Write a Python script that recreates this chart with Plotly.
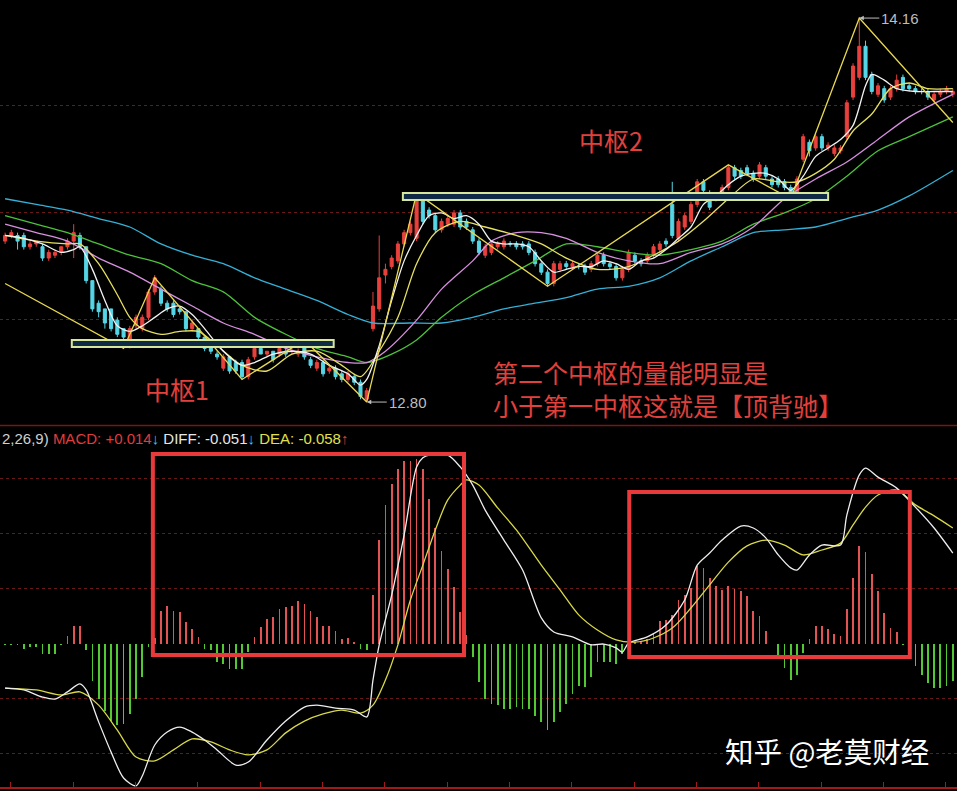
import plotly.graph_objects as go

# ---------------- price data (daily candles) ----------------
opens = [13.37,13.39,13.39,13.39,13.35,13.36,13.35,13.31,13.32,13.33,13.35,13.37,13.39,13.35,13.23,13.15,13.13,13.13,13.09,13.06,
         13.00,13.07,13.06,13.10,13.19,13.20,13.15,13.15,13.13,13.12,13.06,13.06,13.03,13.01,12.97,12.92,12.96,12.94,12.94,12.89,
         12.96,12.99,12.97,12.98,12.97,12.98,12.98,12.97,13.01,12.95,12.92,12.94,12.91,12.92,12.90,12.88,12.89,12.87,12.81,13.06,
         13.13,13.25,13.28,13.30,13.36,13.40,13.38,13.52,13.48,13.46,13.41,13.43,13.43,13.47,13.44,13.41,13.37,13.32,13.33,13.35,
         13.35,13.36,13.36,13.36,13.36,13.33,13.29,13.26,13.22,13.27,13.29,13.28,13.28,13.28,13.27,13.29,13.32,13.29,13.28,13.24,
         13.27,13.32,13.30,13.30,13.32,13.34,13.37,13.50,13.38,13.42,13.44,13.50,13.58,13.54,13.52,13.53,13.56,13.63,13.62,13.63,
         13.61,13.60,13.63,13.59,13.59,13.58,13.56,13.54,13.66,13.72,13.70,13.74,13.70,13.68,13.69,13.74,13.88,13.95,14.06,13.96,
         13.89,13.91,13.88,13.91,13.95,13.92,13.91,13.90,13.90,13.87,13.89,13.90,13.89]
highs = [13.40,13.41,13.40,13.40,13.37,13.37,13.36,13.34,13.34,13.35,13.38,13.43,13.40,13.35,13.23,13.16,13.13,13.13,13.10,13.06,
         13.07,13.11,13.11,13.20,13.25,13.21,13.16,13.16,13.14,13.12,13.09,13.06,13.03,13.02,12.98,12.97,12.96,12.95,12.95,12.96,
         13.00,13.00,12.98,12.98,13.00,12.99,12.99,12.99,13.02,12.96,12.95,12.95,12.93,12.93,12.91,12.91,12.90,12.88,12.85,13.19,
         13.39,13.29,13.32,13.37,13.41,13.44,13.54,13.53,13.49,13.47,13.45,13.46,13.48,13.48,13.45,13.42,13.38,13.36,13.37,13.37,
         13.38,13.37,13.37,13.37,13.37,13.34,13.30,13.27,13.30,13.30,13.30,13.30,13.29,13.29,13.30,13.33,13.33,13.30,13.29,13.28,
         13.34,13.33,13.31,13.33,13.36,13.37,13.38,13.58,13.45,13.47,13.51,13.59,13.59,13.55,13.54,13.57,13.64,13.64,13.63,13.64,
         13.62,13.65,13.64,13.60,13.60,13.59,13.57,13.60,13.75,13.73,13.75,13.75,13.72,13.71,13.71,13.87,14.00,14.16,14.08,13.97,
         13.93,13.92,13.92,13.96,13.96,13.93,13.92,13.91,13.91,13.90,13.91,13.92,13.91]
lows = [13.36,13.38,13.34,13.34,13.34,13.35,13.30,13.30,13.31,13.32,13.34,13.31,13.34,13.22,13.12,13.10,13.06,13.05,13.03,12.99,
        12.99,13.06,13.05,13.09,13.18,13.14,13.12,13.10,13.11,13.05,13.05,13.02,12.98,12.97,12.95,12.91,12.90,12.90,12.88,12.88,
        12.95,12.97,12.96,12.94,12.96,12.96,12.97,12.96,12.95,12.92,12.91,12.89,12.90,12.88,12.87,12.87,12.86,12.81,12.80,13.05,
        13.12,13.22,13.27,13.29,13.35,13.39,13.37,13.43,13.45,13.40,13.40,13.42,13.42,13.41,13.41,13.36,13.32,13.31,13.32,13.34,
        13.34,13.35,13.34,13.34,13.32,13.28,13.25,13.21,13.21,13.26,13.27,13.27,13.27,13.25,13.26,13.28,13.28,13.27,13.23,13.23,
        13.26,13.29,13.28,13.29,13.31,13.33,13.35,13.38,13.37,13.41,13.43,13.49,13.54,13.48,13.51,13.52,13.55,13.59,13.59,13.60,
        13.58,13.59,13.59,13.56,13.56,13.55,13.52,13.53,13.65,13.67,13.69,13.69,13.69,13.67,13.68,13.73,13.87,13.94,13.94,13.89,
        13.88,13.86,13.87,13.90,13.90,13.90,13.89,13.89,13.87,13.86,13.88,13.89,13.88]
closes = [13.39,13.40,13.37,13.35,13.36,13.37,13.31,13.33,13.33,13.35,13.37,13.40,13.35,13.23,13.13,13.12,13.08,13.06,13.04,13.03,
          13.06,13.10,13.10,13.19,13.24,13.15,13.13,13.11,13.12,13.06,13.08,13.03,12.99,12.98,12.96,12.96,12.91,12.91,12.89,12.95,
          12.99,12.97,12.98,12.95,12.99,12.97,12.98,12.98,12.96,12.93,12.94,12.90,12.92,12.89,12.88,12.90,12.87,12.82,12.84,13.14,
          13.24,13.27,13.31,13.36,13.40,13.43,13.53,13.44,13.46,13.41,13.44,13.45,13.47,13.42,13.42,13.37,13.33,13.35,13.36,13.36,
          13.37,13.36,13.35,13.35,13.33,13.29,13.26,13.22,13.29,13.29,13.28,13.29,13.28,13.26,13.29,13.32,13.29,13.28,13.24,13.27,
          13.33,13.30,13.29,13.32,13.35,13.36,13.36,13.39,13.44,13.46,13.50,13.58,13.55,13.49,13.53,13.56,13.63,13.60,13.60,13.61,
          13.59,13.64,13.60,13.57,13.57,13.56,13.53,13.59,13.74,13.69,13.74,13.70,13.71,13.70,13.70,13.86,13.99,14.06,13.95,13.90,
          13.92,13.87,13.91,13.94,13.91,13.91,13.90,13.90,13.88,13.89,13.90,13.91,13.90]
bars = list(range(len(closes)))

# ---------------- moving averages (read at sample bars) ----------------
ma5_x = [0,3,6,9,11,12,14,16,18,20,22,24,26,28,30,32,35,38,40,43,46,49,52,55,57,58,60,62,64,66,68,70,72,74,76,78,80,82,84,86,88,
         90,92,94,96,98,100,102,104,106,108,110,112,114,116,118,120,122,124,126,128,130,132,134,136,138,139,141,143,146,149,152]
ma5_y = [13.39,13.38,13.36,13.33,13.34,13.35,13.27,13.16,13.07,13.05,13.07,13.10,13.13,13.14,13.11,13.06,12.98,12.93,12.94,12.97,
         12.98,12.97,12.93,12.90,12.86,12.88,13.00,13.16,13.30,13.39,13.46,13.47,13.45,13.46,13.43,13.37,13.36,13.36,13.35,13.30,
         13.26,13.27,13.28,13.28,13.30,13.29,13.27,13.30,13.31,13.34,13.38,13.42,13.50,13.53,13.57,13.60,13.61,13.61,13.59,13.55,
         13.60,13.67,13.70,13.73,13.78,13.92,13.96,13.94,13.91,13.90,13.90,13.90]
ma10_x = [0,5,10,12,15,18,20,22,25,28,31,34,38,42,46,50,54,57,60,63,66,69,73,77,82,86,90,95,100,104,108,112,116,120,124,127,130,
          133,136,139,142,145,148,152]
ma10_y = [13.39,13.37,13.36,13.36,13.29,13.18,13.10,13.06,13.04,13.05,13.05,13.00,12.93,12.91,12.97,12.98,12.93,12.89,12.98,13.10,
          13.29,13.40,13.44,13.42,13.39,13.36,13.31,13.27,13.28,13.32,13.37,13.44,13.52,13.59,13.58,13.58,13.61,13.66,13.76,13.82,
          13.91,13.93,13.91,13.91]
ma20_x = [0,5,10,15,20,25,30,35,40,45,50,55,58,61,66,70,75,78,82,86,90,95,100,105,110,115,120,125,130,135,140,145,152]
ma20_y = [13.43,13.40,13.37,13.31,13.26,13.20,13.14,13.08,13.04,12.99,12.96,12.94,12.94,12.98,13.09,13.20,13.30,13.37,13.40,13.40,
          13.38,13.33,13.30,13.29,13.33,13.36,13.42,13.52,13.59,13.65,13.73,13.81,13.89]
ma30_x = [0,5,10,15,20,25,30,35,40,45,50,55,58,62,66,70,75,80,85,90,95,100,105,110,115,120,125,130,135,140,145,152]
ma30_y = [13.46,13.43,13.40,13.36,13.32,13.29,13.23,13.19,13.10,13.04,12.99,12.96,12.94,12.97,13.02,13.10,13.18,13.24,13.30,13.36,
          13.35,13.33,13.32,13.34,13.37,13.43,13.47,13.52,13.60,13.69,13.74,13.81]
ma60_x = [0,5,10,15,20,25,30,35,40,45,50,55,59,65,70,75,80,85,90,95,100,105,110,115,120,125,130,135,140,145,152]
ma60_y = [13.52,13.50,13.48,13.45,13.42,13.36,13.32,13.29,13.24,13.20,13.16,13.11,13.08,13.08,13.08,13.10,13.13,13.15,13.17,13.20,
          13.21,13.24,13.30,13.35,13.40,13.41,13.42,13.45,13.48,13.53,13.62]

# zig-zag stroke vertices (bar, price)
zz_x = [0,19,24,38,48,58,66,87,116,126,137,152]
zz_y = [13.22,12.99,13.24,12.88,13.02,12.80,13.54,13.21,13.64,13.52,14.16,13.79]

# ---------------- MACD ----------------
hist = [-0.0005,-0.0005,-0.0005,-0.0019,-0.0013,-0.0013,-0.0038,-0.0038,-0.0038,-0.0005,
        0.0029,0.0065,0.0062,-0.0025,-0.0135,-0.0201,-0.0244,-0.0280,-0.0298,-0.0292,
        -0.0256,-0.0201,-0.0123,-0.0013,0.0020,0.0117,0.0136,0.0117,0.0116,0.0077,
        0.0053,0.0023,-0.0019,-0.0025,-0.0068,-0.0074,-0.0092,-0.0092,-0.0092,-0.0032,
        0.0023,0.0059,0.0090,0.0096,0.0126,0.0132,0.0136,0.0156,0.0142,0.0117,
        0.0096,0.0065,0.0065,0.0044,0.0017,0.0021,0.0005,-0.0019,-0.0025,0.0175,
        0.0375,0.0502,0.0581,0.0635,0.0665,0.0665,0.0672,0.0635,0.0526,0.0421,
        0.0338,0.0272,0.0205,0.0114,0.0030,-0.0050,-0.0141,-0.0201,-0.0219,-0.0225,
        -0.0238,-0.0238,-0.0232,-0.0238,-0.0238,-0.0262,-0.0286,-0.0316,-0.0286,-0.0250,
        -0.0219,-0.0183,-0.0153,-0.0159,-0.0123,-0.0068,-0.0068,-0.0068,-0.0074,-0.0038,
        0.0003,0.0004,0.0008,0.0017,0.0036,0.0081,0.0087,0.0105,0.0160,0.0178,
        0.0202,0.0281,0.0275,0.0239,0.0208,0.0196,0.0208,0.0199,0.0190,0.0172,
        0.0118,0.0099,0.0045,-0.0003,-0.0052,-0.0088,-0.0131,-0.0113,-0.0034,0.0015,
        0.0063,0.0063,0.0051,0.0033,0.0027,0.0124,0.0239,0.0356,0.0332,0.0251,
        0.0190,0.0112,0.0057,0.0041,-0.0004,-0.0050,-0.0082,-0.0113,-0.0143,-0.0161,
        -0.0161,-0.0155,-0.0137]
diff_x = [0,3,6,8,10,12,13,15,17,19,21,22,24,26,28,30,32,34,37,39,42,45,48,50,53,56,58,59,60,62,64,66,67,68,71,73,75,77,80,83,
          86,88,91,94,96,98,99,100,103,106,109,111,113,115,118,120,122,124,126,127,129,131,134,135,137,138,140,143,146,149,152]
diff_y = [-0.0162,-0.0169,-0.0195,-0.0202,-0.0176,-0.0147,-0.0169,-0.0285,-0.0395,-0.0489,-0.0518,-0.0482,-0.0369,-0.0322,-0.0304,
          -0.0322,-0.0351,-0.0387,-0.0442,-0.0431,-0.0351,-0.0282,-0.0231,-0.0224,-0.0235,-0.0242,-0.0267,-0.0133,-0.0005,0.0176,
          0.0395,0.0642,0.0675,0.0685,0.0685,0.0642,0.0576,0.0485,0.0376,0.0267,0.0093,0.0042,0.0024,-0.0005,-0.0002,-0.0016,
          -0.0031,0.0002,0.0024,0.0067,0.0158,0.0285,0.0329,0.0376,0.0427,0.0420,0.0384,0.0322,0.0275,0.0267,0.0322,0.0358,0.0358,
          0.0467,0.0613,0.0638,0.0605,0.0565,0.0496,0.0420,0.0329]
dea_x = [0,5,9,12,15,18,21,24,27,30,33,36,39,42,45,48,51,54,57,59,61,63,65,67,69,71,73,74,76,79,82,86,89,92,95,98,101,104,107,
         110,113,116,119,122,125,128,131,134,136,138,140,143,146,149,152]
dea_y = [-0.0162,-0.0169,-0.0187,-0.0176,-0.0224,-0.0315,-0.0413,-0.0427,-0.0387,-0.0347,-0.0358,-0.0387,-0.0405,-0.0387,-0.0325,
         -0.0282,-0.0256,-0.0242,-0.0253,-0.0224,-0.0133,-0.0005,0.0158,0.0285,0.0413,0.0522,0.0576,0.0595,0.0576,0.0493,0.0413,
         0.0285,0.0195,0.0104,0.0049,0.0013,0.0005,0.0020,0.0056,0.0129,0.0213,0.0296,0.0355,0.0376,0.0358,0.0322,0.0340,0.0365,
         0.0431,0.0496,0.0540,0.0558,0.0504,0.0464,0.0420]

# ---------------- figure ----------------
W, H = 957, 791
def px(x):
    return x / W
def py(y):
    return 1 - y / H

fig = go.Figure()
fig.add_trace(go.Candlestick(x=bars, open=opens, high=highs, low=lows, close=closes,
                             increasing=dict(line=dict(color='#e8403c', width=1), fillcolor='#e8403c'),
                             decreasing=dict(line=dict(color='#55d6e6', width=1), fillcolor='#55d6e6'),
                             whiskerwidth=0, xaxis='x', yaxis='y', showlegend=False, hoverinfo='skip'))

ma_style = [(ma60_x, ma60_y, '#35b0d6'), (ma30_x, ma30_y, '#4cc23a'), (ma20_x, ma20_y, '#d890e0'),
            (ma10_x, ma10_y, '#e6e060'), (ma5_x, ma5_y, '#f2f2f2')]
for xs, ys, col in ma_style:
    fig.add_trace(go.Scatter(x=xs, y=ys, mode='lines', line=dict(color=col, width=1.3, shape='spline', smoothing=0.8),
                             xaxis='x', yaxis='y', showlegend=False, hoverinfo='skip'))
fig.add_trace(go.Scatter(x=zz_x, y=zz_y, mode='lines', line=dict(color='#e8d850', width=1.3),
                         xaxis='x', yaxis='y', showlegend=False, hoverinfo='skip'))

hist_colors = ['#e25454' if v >= 0 else '#52c832' for v in hist]
fig.add_trace(go.Bar(x=bars, y=hist, width=0.28, marker=dict(color=hist_colors, line=dict(width=0)),
                     xaxis='x', yaxis='y2', showlegend=False, hoverinfo='skip'))
fig.add_trace(go.Scatter(x=dea_x, y=dea_y, mode='lines', line=dict(color='#d8d848', width=1.3, shape='spline', smoothing=0.8),
                         xaxis='x', yaxis='y2', showlegend=False, hoverinfo='skip'))
fig.add_trace(go.Scatter(x=diff_x, y=diff_y, mode='lines', line=dict(color='#eeeeee', width=1.3, shape='spline', smoothing=0.8),
                         xaxis='x', yaxis='y2', showlegend=False, hoverinfo='skip'))

shapes = []
# 中枢 boxes (price panel)
for x0, x1, y0, y1 in [(10.7, 52.7, 12.995, 13.020), (63.8, 132.0, 13.516, 13.540)]:
    shapes.append(dict(type='rect', xref='x', yref='y', x0=x0, x1=x1, y0=y0, y1=y1,
                       line=dict(color='#d6e69a', width=2), fillcolor='#0e2a44', layer='above'))
# red highlight boxes (MACD panel)
for x0, x1, y0, y1 in [(23.7, 73.6, -0.0042, 0.0689), (100.1, 145.1, -0.0049, 0.0551)]:
    shapes.append(dict(type='rect', xref='x', yref='y2', x0=x0, x1=x1, y0=y0, y1=y1,
                       line=dict(color='#e8393b', width=4), layer='above'))
# panel separator
shapes.append(dict(type='line', xref='paper', yref='paper', x0=0, x1=1, y0=py(425.5), y1=py(425.5),
                   line=dict(color='#7a1616', width=1.5)))

red_txt = '#e2403c'
cjk = 'Noto Sans CJK SC'
annotations = [
    dict(x=px(177), y=py(389), text='中枢1', font=dict(family=cjk, size=25, color=red_txt)),
    dict(x=px(611), y=py(140), text='中枢2', font=dict(family=cjk, size=25, color=red_txt)),
    dict(x=px(491), y=py(372), xanchor='left', text='第二个中枢的量能明显是', font=dict(family=cjk, size=25, color=red_txt)),
    dict(x=px(491), y=py(405), xanchor='left', text='小于第一中枢这就是【顶背驰】', font=dict(family=cjk, size=25, color=red_txt)),
    dict(x=px(827), y=py(750), text='知乎 @老莫财经', font=dict(family=cjk, size=28.5, color='#ffffff')),
    dict(x=0, y=py(438), xanchor='left',
         text=("<span style='color:#d0d0d0'>2,26,9)</span> <span style='color:#e03c3c'>MACD: +0.014</span>"
               "<span style='color:#3cc8e0'>↓</span> <span style='color:#e6e6e6'>DIFF: -0.051</span>"
               "<span style='color:#3cc8e0'>↓</span> <span style='color:#e0e04c'>DEA: -0.058</span>"
               "<span style='color:#e03c3c'>↑</span>"),
         font=dict(family='Liberation Sans', size=15)),
]
for a in annotations:
    a.update(xref='paper', yref='paper', showarrow=False)
    a.setdefault('yanchor', 'middle')
    a.setdefault('xanchor', 'center')

# extreme-price markers with arrows
for bx, price, label in [(58, 12.80, '12.80'), (137, 14.16, '14.16')]:
    annotations.append(dict(x=bx, y=price, xref='x', yref='y', text=label, showarrow=True,
                            ax=20, ay=0, arrowhead=2, arrowsize=0.9, arrowwidth=1, arrowcolor='#bdbdbd',
                            xanchor='left', yanchor='middle',
                            font=dict(family='Liberation Sans', size=15, color='#bdbdbd')))

fig.update_layout(
    width=W, height=H, margin=dict(l=0, r=0, t=0, b=0),
    paper_bgcolor='#000000', plot_bgcolor='#000000',
    showlegend=False, bargap=0,
    xaxis=dict(range=[-0.818, 152.67], domain=[0, 1], anchor='y2', showgrid=False, zeroline=False,
               showline=True, linecolor='#a01a1a', linewidth=1.5, ticks='inside', ticklen=5, tickcolor='#a01a1a',
               tickvals=[0.9 + 10 * k for k in range(16)], showticklabels=False,
               rangeslider=dict(visible=False)),
    yaxis=dict(domain=[py(425), 1], range=[12.7187, 14.224], tickvals=[13.094, 13.473, 13.852],
               showticklabels=False, showgrid=True, gridcolor='#6a1818', griddash='dot', gridwidth=1,
               zeroline=False, showline=False),
    yaxis2=dict(domain=[4 / H, 363 / H], range=[-0.05218, 0.07836], tickvals=[-0.04, -0.02, 0.02, 0.04, 0.06],
                showticklabels=False, showgrid=True, gridcolor='#6a1818', griddash='dot', gridwidth=1,
                zeroline=False, showline=False),
    shapes=shapes, annotations=annotations,
)

fig.write_html("out.html", config={'displayModeBar': False, 'staticPlot': True},
               post_script="document.body.style.margin='0';document.body.style.background='#000';")
